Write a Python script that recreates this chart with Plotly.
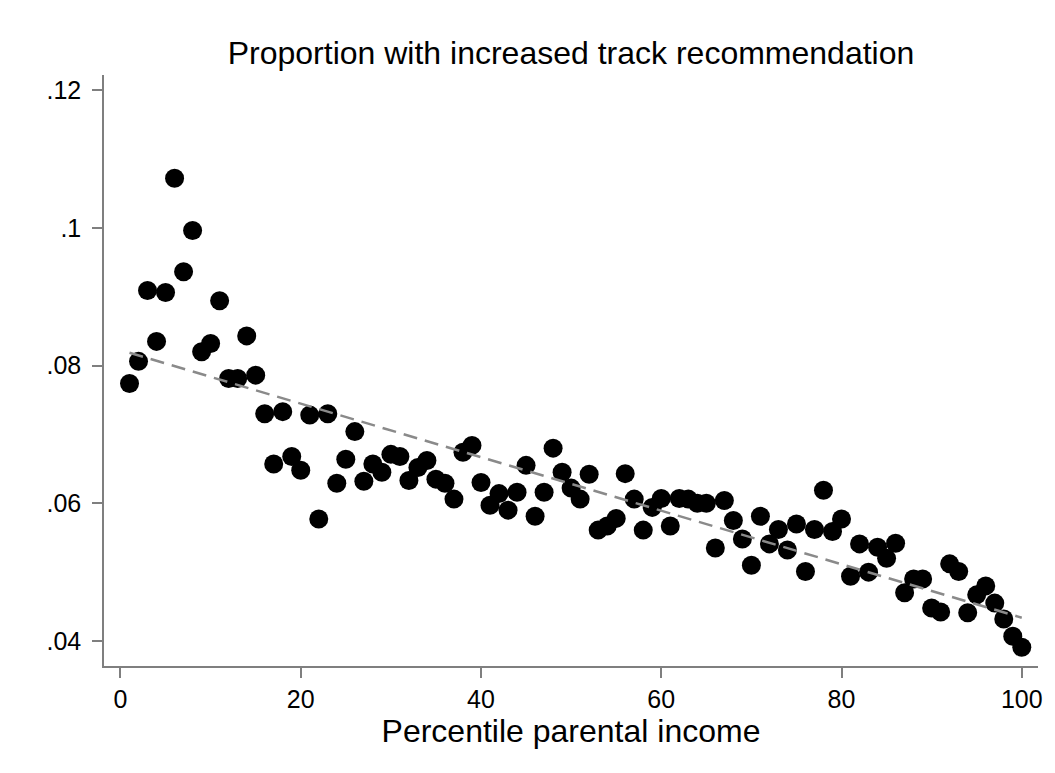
import numpy as np
import plotly.graph_objects as go

# Percentile of parental income (1..100)
percentile = list(range(1, 101))

# Share of pupils with an increased track recommendation, by percentile
proportion = [
    0.0774, 0.0806, 0.0909, 0.0835, 0.0906, 0.1072, 0.0936, 0.0996, 0.0820, 0.0832,
    0.0894, 0.0781, 0.0781, 0.0843, 0.0786, 0.0730, 0.0657, 0.0733, 0.0668, 0.0648,
    0.0728, 0.0577, 0.0730, 0.0629, 0.0664, 0.0704, 0.0632, 0.0657, 0.0645, 0.0671,
    0.0668, 0.0633, 0.0652, 0.0662, 0.0635, 0.0629, 0.0606, 0.0674, 0.0684, 0.0630,
    0.0597, 0.0614, 0.0590, 0.0616, 0.0655, 0.0581, 0.0616, 0.0680, 0.0645, 0.0622,
    0.0606, 0.0642, 0.0561, 0.0567, 0.0578, 0.0643, 0.0606, 0.0561, 0.0594, 0.0607,
    0.0567, 0.0607, 0.0606, 0.0600, 0.0600, 0.0535, 0.0604, 0.0575, 0.0548, 0.0510,
    0.0581, 0.0541, 0.0562, 0.0532, 0.0570, 0.0501, 0.0562, 0.0619, 0.0559, 0.0577,
    0.0494, 0.0541, 0.0500, 0.0536, 0.0520, 0.0542, 0.0470, 0.0490, 0.0490, 0.0448,
    0.0442, 0.0512, 0.0501, 0.0441, 0.0467, 0.0480, 0.0455, 0.0432, 0.0407, 0.0391,
]

y_tick_values = [0.04, 0.06, 0.08, 0.10, 0.12]
y_tick_labels = [".04", ".06", ".08", ".1", ".12"]
x_tick_values = [0, 20, 40, 60, 80, 100]

# Linear fit over the binned points
slope, intercept = np.polyfit(percentile, proportion, 1)
fit_x = [percentile[0], percentile[-1]]
fit_y = [intercept + slope * v for v in fit_x]

FONT = "Liberation Sans, Arial, sans-serif"
AXIS_GREY = "#7f7f7f"

fig = go.Figure()
fig.add_trace(go.Scatter(
    x=percentile, y=proportion, mode="markers",
    marker=dict(color="black", size=19, line=dict(width=0)),
    hoverinfo="x+y", showlegend=False,
))
fig.add_trace(go.Scatter(
    x=fit_x, y=fit_y, mode="lines",
    line=dict(color="#8a8a8a", width=2.5, dash="14px,8px"),
    hoverinfo="skip", showlegend=False,
))

fig.update_layout(
    width=1055, height=773,
    margin=dict(l=104, r=15, t=75, b=107),
    paper_bgcolor="white", plot_bgcolor="white",
    font=dict(family=FONT, color="black"),
    title=dict(
        text="Proportion with increased track recommendation",
        x=0.5, xanchor="center", xref="paper",
        y=1 - 53 / 773, yanchor="middle",
        font=dict(size=32, family=FONT, color="black"),
    ),
    xaxis=dict(
        range=[-1.83, 101.8],
        tickvals=x_tick_values,
        ticks="outside", ticklen=10, tickwidth=1.5, tickcolor=AXIS_GREY,
        showline=True, linecolor=AXIS_GREY, linewidth=1.5,
        showgrid=False, zeroline=False,
        tickfont=dict(size=25, family=FONT, color="black"),
        title=dict(text="Percentile parental income",
                   font=dict(size=32, family=FONT, color="black"), standoff=2),
    ),
    yaxis=dict(
        range=[0.03637, 0.12218],
        tickvals=y_tick_values, ticktext=y_tick_labels,
        ticks="outside", ticklen=10, tickwidth=1.5, tickcolor=AXIS_GREY,
        showline=True, linecolor=AXIS_GREY, linewidth=1.5,
        showgrid=False, zeroline=False,
        ticklabelstandoff=6,
        tickfont=dict(size=25, family=FONT, color="black"),
    ),
)

fig.write_html("out.html")
